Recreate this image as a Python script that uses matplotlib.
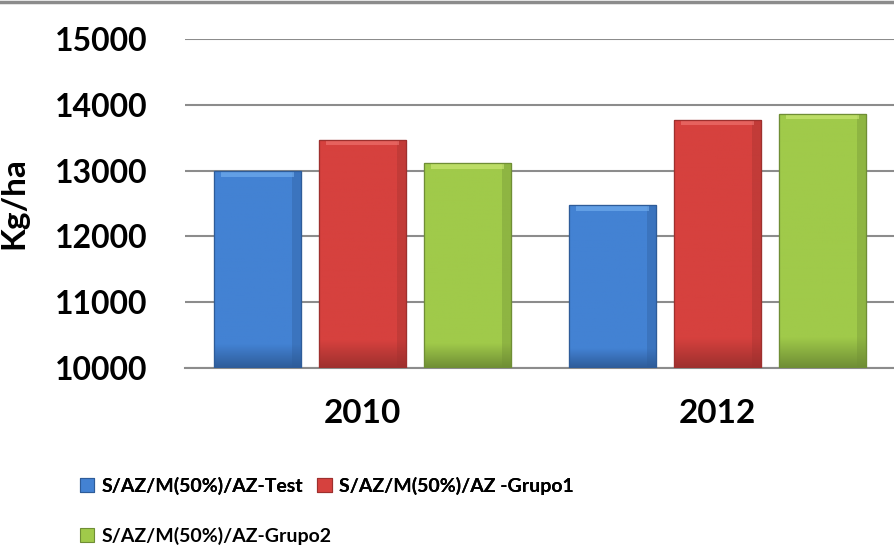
import numpy as np
import matplotlib
matplotlib.use("Agg")
import matplotlib.pyplot as plt
from matplotlib.colors import LinearSegmentedColormap
from matplotlib.patches import Rectangle

plt.rcParams['font.family'] = ['Lato', 'DejaVu Sans']

years = ["2010", "2012"]
series_names = ["S/AZ/M(50%)/AZ-Test", "S/AZ/M(50%)/AZ -Grupo1", "S/AZ/M(50%)/AZ-Grupo2"]
test_vals = [12990, 12470]
grupo1_vals = [13470, 13770]
grupo2_vals = [13110, 13860]
yticks = [10000, 11000, 12000, 13000, 14000, 15000]

colors_main = ["#4382D3", "#D6413E", "#A0CA4A"]
colors_light = ["#7DB8F5", "#F57E7A", "#D4EE7E"]
colors_dark = ["#2E5C99", "#9E302E", "#6F8E35"]

fig = plt.figure(figsize=(8.95, 5.51), dpi=100)
ax = fig.add_axes([185/895, 1-368/551, 710/895, (368-39)/551])

x = np.arange(len(years))
width = 0.245
step = 0.296
all_vals = [test_vals, grupo1_vals, grupo2_vals]
base = 10000
handles = []
for i, vals in enumerate(all_vals):
    heights = [v - base for v in vals]
    bars = ax.bar(x + (i - 1) * step, heights, width, bottom=base,
                  color=colors_main[i], edgecolor=colors_dark[i], linewidth=0.8,
                  zorder=3, label=series_names[i])
    handles.append(bars)
    cmap = LinearSegmentedColormap.from_list(
        "g%d" % i, [(0, colors_dark[i]), (0.12, colors_main[i]), (1, colors_main[i])])
    for b in bars:
        x0, y0 = b.get_x(), b.get_y()
        w, h = b.get_width(), b.get_height()
        grad = np.linspace(0, 1, 256).reshape(-1, 1)
        im = ax.imshow(grad, extent=[x0, x0 + w, y0, y0 + h], origin='lower',
                       cmap=cmap, aspect='auto', zorder=3.1, vmin=0, vmax=1)
        im.set_clip_path(b)
        # side shading
        ax.add_patch(Rectangle((x0 + w * 0.9, y0), w * 0.1, h,
                               facecolor=colors_dark[i], edgecolor='none', alpha=0.35, zorder=3.2))
        # bevel top strip
        ax.add_patch(Rectangle((x0 + w * 0.08, y0 + h - 80), w * 0.84, 70,
                               facecolor=colors_light[i], edgecolor='none', alpha=0.55, zorder=3.2))
        ax.add_patch(Rectangle((x0, y0), w, h, facecolor='none',
                               edgecolor=colors_dark[i], linewidth=0.9, zorder=3.3))

ax.set_xlim(-0.5, 1.5)
ax.set_ylim(10000, 15000)
ax.set_yticks(yticks)
ax.set_yticklabels([str(t) for t in yticks], fontsize=23, fontweight='bold')
ax.set_xticks(x)
ax.set_xticklabels(years, fontsize=24, fontweight='bold')
ax.tick_params(axis='y', length=0, pad=27)
ax.tick_params(axis='x', length=0, pad=22)
ax.yaxis.grid(True, color='#8C8C8C', linewidth=1.5, zorder=0)
for s in ['top', 'right', 'left']:
    ax.spines[s].set_visible(False)
ax.spines['bottom'].set_color('#8C8C8C')
ax.spines['bottom'].set_linewidth(1.5)
ax.set_ylabel("Kg/ha", fontsize=24, fontweight='bold')
ax.yaxis.set_label_coords((28 - 185) / 710, (368 - 203) / (368 - 39))

# top frame line
fig.add_artist(plt.Line2D([0, 1], [1 - 2/551, 1 - 2/551], color='#8C8C8C', linewidth=2.5))

leg_kw = dict(loc='upper left', frameon=False,
              prop={'size': 14, 'weight': 'bold'}, handlelength=0.75, handleheight=0.75,
              handletextpad=0.35, borderpad=0)
leg1 = fig.legend(handles=[handles[0], handles[1]], labels=[series_names[0], series_names[1]],
                  bbox_to_anchor=(70/895, 1 - 467/551), ncol=2, columnspacing=0.75, **leg_kw)
leg2 = fig.legend(handles=[handles[2]], labels=[series_names[2]],
                  bbox_to_anchor=(70/895, 1 - 517/551), ncol=1, **leg_kw)
fig.add_artist(leg1)

fig.savefig("out.png", dpi=100)
